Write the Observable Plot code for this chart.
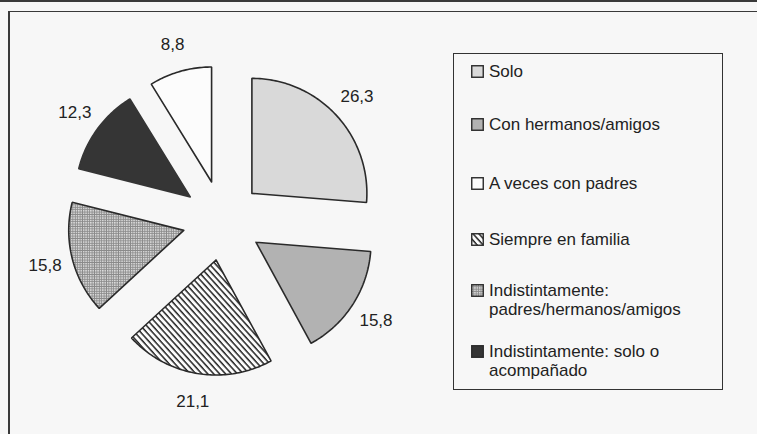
<!DOCTYPE html>
<html>
<head>
<meta charset="utf-8">
<script src="https://cdn.jsdelivr.net/npm/d3@7"></script>
<script src="https://cdn.jsdelivr.net/npm/@observablehq/plot@0.6"></script>
<style>
  html, body { margin: 0; padding: 0; background: #f7f7f7; }
  #wrap { position: relative; width: 757px; height: 434px; overflow: hidden; font-family: "Liberation Sans", Arial, sans-serif; color: #222; }
  #wrap svg.plot { position: absolute; left: 0; top: 0; }
  .rule { position: absolute; background: #3a3a3a; }
  #legend { position: absolute; left: 453px; top: 53px; width: 268px; height: 335px; border: 1.5px solid #333; }
  .item { position: absolute; left: 0; font-size: 17px; line-height: 19px; }
  .item svg { position: absolute; left: 17px; top: 3px; }
  .item .txt { position: absolute; left: 35px; top: 0; white-space: nowrap; }
</style>
</head>
<body>
<div id="wrap"></div>
<script>
// ---- data ----
const categories = ["Solo", "Con hermanos/amigos", "A veces con padres", "Siempre en familia",
  "Indistintamente: padres/hermanos/amigos", "Indistintamente: solo o acompañado"];
const values = [26.3, 15.8, 8.8, 21.1, 15.8, 12.3];
const valueLabels = ["26,3", "15,8", "8,8", "21,1", "15,8", "12,3"];
// clockwise order of slices starting at 12 o'clock (indices into categories)
const pieOrder = [0, 1, 3, 4, 5, 2];
const legendLines = [["Solo"], ["Con hermanos/amigos"], ["A veces con padres"], ["Siempre en familia"],
  ["Indistintamente:", "padres/hermanos/amigos"], ["Indistintamente: solo o", "acompañado"]];
const fills = ["#d9d9d9", "#b2b2b2", "#fcfcfc", "url(#hatch)", "url(#grid)", "#353535"];

// ---- layout ----
const W = 757, H = 434;
const cx = 222, cy = 220, R = 115, explode = 40, labelR = 143;

const total = d3.sum(values);
const dir = a => [Math.sin(a * Math.PI / 180), -Math.cos(a * Math.PI / 180)];
let acc = 0;
const slices = pieOrder.map(i => {
  const a0 = acc / total * 360;
  acc += values[i];
  const a1 = acc / total * 360;
  const mid = (a0 + a1) / 2;
  const [dx, dy] = dir(mid);
  const ox = cx + explode * dx, oy = cy + explode * dy;
  const pts = [{x: ox, y: oy}];
  const n = Math.max(2, Math.ceil(a1 - a0));
  for (let k = 0; k <= n; k++) {
    const a = a0 + (a1 - a0) * k / n;
    const [ux, uy] = dir(a);
    pts.push({x: ox + R * ux, y: oy + R * uy});
  }
  pts.push({x: ox, y: oy});
  return {i, pts, label: {x: ox + labelR * dx, y: oy + labelR * dy, text: valueLabels[i]}};
});

const marks = slices.map(s => Plot.line(s.pts, {
  x: "x", y: "y", fill: fills[s.i],
  stroke: s.i === 5 ? "#353535" : "#2a2a2a", strokeWidth: 1.6, strokeLinejoin: "miter", curve: "linear"
}));
marks.push(Plot.text(slices.map(s => s.label), {
  x: "x", y: "y", text: "text", fontSize: 17, fill: "#222", fontFamily: "Liberation Sans, Arial, sans-serif"
}));

const chart = Plot.plot({
  width: W, height: H, margin: 0,
  x: {domain: [0, W], range: [0, W], axis: null},
  y: {domain: [0, H], range: [0, H], axis: null},
  style: {background: "transparent", fontFamily: "Liberation Sans, Arial, sans-serif"},
  marks
});
chart.classList.add("plot");

// pattern definitions
const defs = d3.select(chart).insert("defs", ":first-child");
const hatch = defs.append("pattern").attr("id", "hatch").attr("patternUnits", "userSpaceOnUse")
  .attr("width", 4.4).attr("height", 10).attr("patternTransform", "rotate(-42)");
hatch.append("rect").attr("width", 4.4).attr("height", 10).attr("fill", "#fcfcfc");
hatch.append("line").attr("x1", 1).attr("x2", 1).attr("y1", 0).attr("y2", 10)
  .attr("stroke", "#222").attr("stroke-width", 1.5);
const grid = defs.append("pattern").attr("id", "grid").attr("patternUnits", "userSpaceOnUse")
  .attr("width", 2.4).attr("height", 2.4);
grid.append("rect").attr("width", 2.4).attr("height", 2.4).attr("fill", "#8a8a8a");
grid.append("rect").attr("x", 0.9).attr("y", 0.9).attr("width", 1.3).attr("height", 1.3).attr("fill", "#f4f4f4");

const wrap = document.getElementById("wrap");
wrap.appendChild(chart);

// frame rules
const rules = [
  {left: 0, top: 0, width: W, height: 2},
  {left: 8, top: 11, width: W - 8, height: 1.3},
  {left: 8, top: 11, width: 1.6, height: H - 11}
];
for (const r of rules) {
  const d = document.createElement("div");
  d.className = "rule";
  Object.assign(d.style, {left: r.left + "px", top: r.top + "px", width: r.width + "px", height: r.height + "px"});
  wrap.appendChild(d);
}

// legend
const legend = document.createElement("div");
legend.id = "legend";
wrap.appendChild(legend);
const itemTops = [62, 115, 174, 230, 281, 342]; // page y of first text line top
categories.forEach((c, i) => {
  const it = document.createElement("div");
  it.className = "item";
  it.style.top = (itemTops[i] - 53 - 1.5) + "px";
  it.innerHTML = `<svg width="14" height="14"><rect x="0.75" y="0.75" width="11.5" height="11.5" fill="${fills[i]}" stroke="#2a2a2a" stroke-width="1.4"/></svg>` +
    `<div class="txt">${legendLines[i].join("<br>")}</div>`;
  legend.appendChild(it);
});
</script>
</body>
</html>
